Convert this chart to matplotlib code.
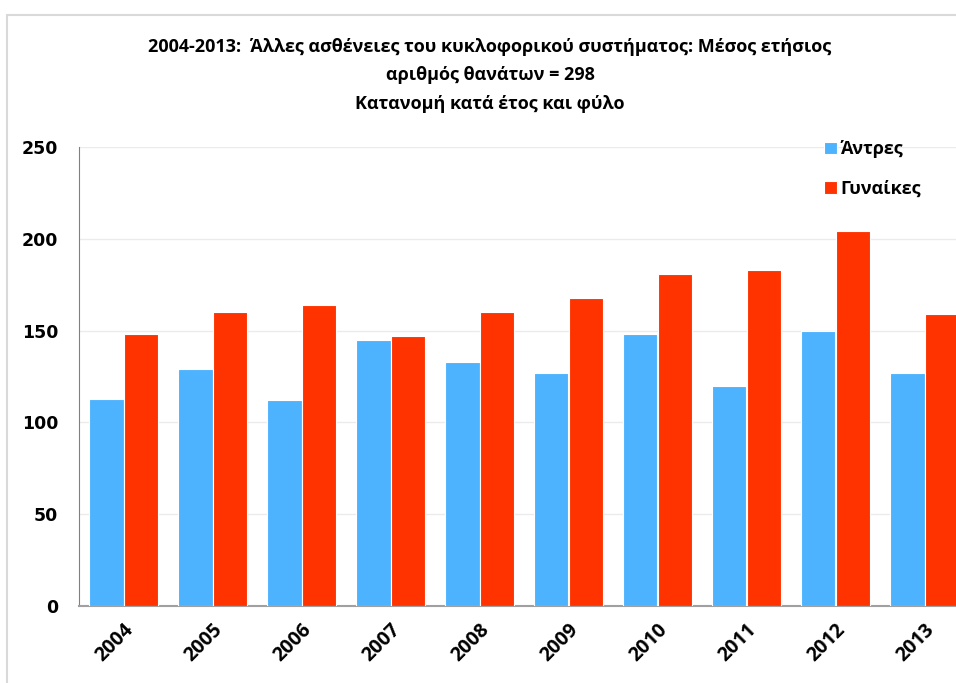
import matplotlib.pyplot as plt
import matplotlib.patches as mpatches
import numpy as np

years = ['2004', '2005', '2006', '2007', '2008', '2009', '2010', '2011', '2012', '2013']
men = [113, 129, 112, 145, 133, 127, 148, 120, 150, 127]
women = [148, 160, 164, 147, 160, 168, 181, 183, 204, 159]

title = ('2004-2013:  Άλλες ασθένειες του κυκλοφορικού συστήματος: Μέσος ετήσιος\n'
         'αριθμός θανάτων = 298\n'
         'Κατανομή κατά έτος και φύλο')

plt.rcParams['font.family'] = ['Liberation Sans Narrow', 'Open Sans', 'DejaVu Sans']

fig = plt.figure(figsize=(9.56, 6.83), dpi=100)
fig.patches.append(mpatches.Rectangle((7 / 956, -0.1), 1.2, 1 - 15 / 683 + 0.1,
                                      transform=fig.transFigure, fill=False,
                                      edgecolor='#d9d9d9', linewidth=1.5))

ax = fig.add_axes([79 / 956, 1 - 606 / 683, 890 / 956, 459 / 683])

x = np.arange(len(years))
w = 0.39
ax.bar(x - w / 2, men, w, color='#4db3ff', edgecolor='white', linewidth=0.8, label='Άντρες', zorder=3)
ax.bar(x + w / 2, women, w, color='#ff3300', edgecolor='white', linewidth=0.8, label='Γυναίκες', zorder=3)

ax.set_xlim(-0.5, len(years) - 0.5)
ax.set_ylim(0, 250)
ax.set_yticks([0, 50, 100, 150, 200, 250])
ax.grid(axis='y', color='#ebebeb', linewidth=1, zorder=0)
ax.tick_params(axis='y', length=0, pad=15, labelsize=12.5)
ax.tick_params(axis='x', length=0, pad=10, labelsize=14)
for lab in ax.get_yticklabels():
    lab.set_fontweight('bold')
    lab.set_family(['DejaVu Sans'])
ax.set_xticks(x)
ax.set_xticklabels(years, rotation=45, ha='right', rotation_mode='anchor', fontweight='bold')

for s in ['top', 'right']:
    ax.spines[s].set_visible(False)
ax.spines['left'].set_color('#808080')
ax.spines['bottom'].set_color('#a0a0a0')
ax.spines['bottom'].set_linewidth(1.5)

fig.text(490 / 956, 1 - 38 / 683, title, ha='center', va='top', fontsize=13,
         fontweight='bold', linespacing=1.75)

fig.legend(loc='upper left', bbox_to_anchor=(808 / 956, 1 - 124 / 683), frameon=False,
           prop={'weight': 'bold', 'size': 13}, handlelength=0.7, handleheight=0.7,
           handletextpad=0.2, labelspacing=1.2)

fig.savefig('out.png', dpi=100)
